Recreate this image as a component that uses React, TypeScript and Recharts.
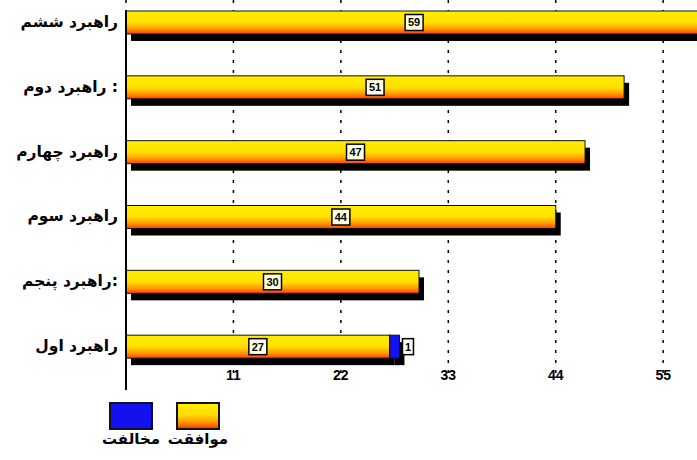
import React from 'react';
import { BarChart, Bar, XAxis, YAxis, CartesianGrid, LabelList, Legend, ReferenceLine } from 'recharts';

const categories = ['راهبرد ششم', 'راهبرد دوم :', 'راهبرد چهارم', 'راهبرد سوم', 'راهبرد پنجم:', 'راهبرد اول'];
const agreeValues = [59, 51, 47, 44, 30, 27];
const disagreeValues = [0, 0, 0, 0, 0, 1];
const xTicks = [0, 11, 22, 33, 44, 55];
const seriesNames = ['موافقت', 'مخالفت'];

const rows = categories.map((name, i) => ({ name, agree: agreeValues[i], disagree: disagreeValues[i] }));

const BLUE = '#1212f0';
const persianFont = '"DejaVu Sans", sans-serif';

const ShadowBar = (fill: string) => (props: any) => {
  const { x, y, width, height } = props;
  if (!width || width <= 0) return null;
  return (
    <g>
      <rect x={x + 5} y={y + 7} width={width} height={height} fill="#000" />
      <rect x={x} y={y} width={width} height={height} fill={fill} stroke="#111" strokeWidth={1} />
    </g>
  );
};

const ValueBox = (mode: 'center' | 'right') => (props: any) => {
  const { x, y, width, height, value } = props;
  if (!value) return null;
  const s = String(value);
  const w = s.length * 7 + 4;
  const h = 16;
  const cx = mode === 'center' ? x + width / 2 : x + width + 3 + w / 2;
  const cy = y + height / 2;
  return (
    <g>
      <rect x={cx - w / 2} y={cy - h / 2} width={w} height={h} fill="#ffffe6" stroke="#000" strokeWidth={1.5} />
      <text x={cx} y={cy + 1} textAnchor="middle" dominantBaseline="middle" fontFamily='"Liberation Sans", Arial, sans-serif' fontWeight="bold" fontSize={11} fill="#000">
        {s}
      </text>
    </g>
  );
};

const XTick = (props: any) => {
  const { x, y, payload } = props;
  if (payload.value === 0) return null;
  return (
    <text x={x} y={y - 3} textAnchor="middle" dominantBaseline="middle" fontFamily='"Liberation Sans", Arial, sans-serif' fontWeight="bold" fontSize={14} fill="#000">
      {payload.value}
    </text>
  );
};

const YTick = (props: any) => {
  const { x, y, payload } = props;
  return (
    <text x={x} y={y} textAnchor="end" dominantBaseline="middle" fontFamily={persianFont} fontWeight="bold" fontSize={15.5} fill="#000">
      {payload.value}
    </text>
  );
};

const AxisLine = (p: any) => {
  const top = Math.min(p.y1, p.y2);
  const bottom = Math.max(p.y1, p.y2);
  return <line x1={p.x1} x2={p.x2} y1={top + 20} y2={bottom + 11} stroke="#000" strokeWidth={2} />;
};

const renderLegend = (props: any) => {
  const payload = (props.payload || []).slice();
  payload.sort((a: any) => (a.dataKey === 'disagree' ? -1 : 1));
  return (
    <div style={{ position: 'relative', height: 0, width: 0 }}>
      <div style={{ position: 'absolute', left: 107, top: 402, display: 'flex', gap: 19 }}>
        {payload.map((entry: any) => (
          <div key={entry.value} style={{ display: 'flex', flexDirection: 'column', alignItems: 'center', width: 48 }}>
            <div
              style={{
                width: 40,
                height: 24,
                border: '2px solid #111',
                background:
                  entry.dataKey === 'disagree'
                    ? BLUE
                    : 'linear-gradient(to bottom, #ffee00 0%, #ffdd00 45%, #ff9900 75%, #ff4000 100%)',
              }}
            />
            <div style={{ fontFamily: persianFont, fontWeight: 'bold', fontSize: 15, color: '#000', marginTop: 0, whiteSpace: 'nowrap' }}>
              {entry.value}
            </div>
          </div>
        ))}
      </div>
    </div>
  );
};

export default function App() {
  return (
    <div style={{ position: 'absolute', left: 0, top: 0, width: 697, height: 460, overflow: 'hidden', background: '#fff' }}>
      <BarChart width={720} height={460} data={rows} layout="vertical" margin={{ top: -10, right: 8, left: 0, bottom: 0 }}>
        <defs>
          <linearGradient id="gradAgree" x1="0" y1="0" x2="0" y2="1">
            <stop offset="0%" stopColor="#ffee00" />
            <stop offset="50%" stopColor="#ffe000" />
            <stop offset="78%" stopColor="#ff9900" />
            <stop offset="100%" stopColor="#ff4000" />
          </linearGradient>
        </defs>
        <CartesianGrid horizontal={false} vertical stroke="#000" strokeWidth={1.5} strokeDasharray="3 7" />
        <XAxis
          type="number"
          domain={[0, 60]}
          ticks={xTicks}
          axisLine={false}
          tickLine={false}
          tickSize={0}
          tickMargin={0}
          height={81}
          tick={<XTick />}
          interval={0}
        />
        <YAxis
          type="category"
          dataKey="name"
          width={126}
          axisLine={false}
          tickLine={false}
          tickSize={0}
          tickMargin={8}
          tick={<YTick />}
          interval={0}
        />
        <Bar dataKey="agree" name={seriesNames[0]} stackId="a" fill="url(#gradAgree)" barSize={23} shape={ShadowBar('url(#gradAgree)')} isAnimationActive={false}>
          <LabelList dataKey="agree" content={ValueBox('center')} />
        </Bar>
        <Bar dataKey="disagree" name={seriesNames[1]} stackId="a" fill={BLUE} barSize={23} shape={ShadowBar(BLUE)} isAnimationActive={false}>
          <LabelList dataKey="disagree" content={ValueBox('right')} />
        </Bar>
        <ReferenceLine x={0} stroke="#000" shape={AxisLine} />
        <Legend content={renderLegend} wrapperStyle={{ position: 'absolute', left: 0, top: 0, bottom: 'auto', width: 0, height: 0 }} />
      </BarChart>
    </div>
  );
}
